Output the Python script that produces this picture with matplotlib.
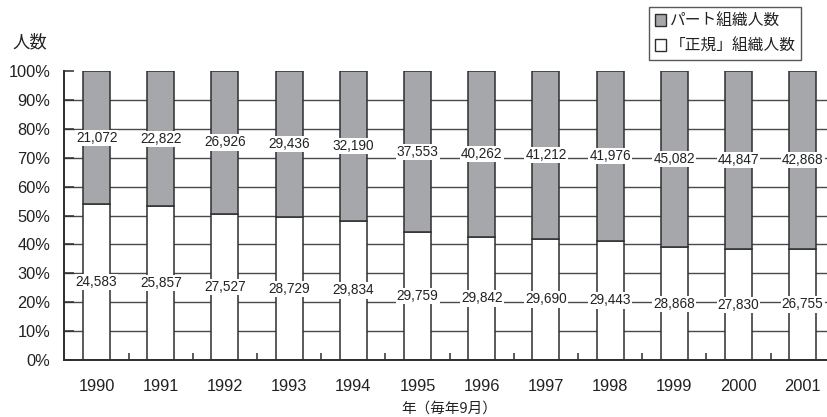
import matplotlib
matplotlib.use("Agg")
import matplotlib.pyplot as plt
from matplotlib.patches import Patch
from matplotlib.ticker import FixedLocator, PercentFormatter
import numpy as np

years = ["1990", "1991", "1992", "1993", "1994", "1995",
         "1996", "1997", "1998", "1999", "2000", "2001"]
part_members = [21072, 22822, 26926, 29436, 32190, 37553,
                40262, 41212, 41976, 45082, 44847, 42868]
regular_members = [24583, 25857, 27527, 28729, 29834, 29759,
                   29842, 29690, 29443, 28868, 27830, 26755]

part_label = "パート組織人数"
regular_label = "「正規」組織人数"
x_title = "年（毎年9月）"
y_title = "人数"

JP = ["Noto Sans CJK JP", "DejaVu Sans"]
plt.rcParams["font.family"] = ["Liberation Sans", "DejaVu Sans"]

GRAY = "#a6a7aa"
DARK = "#2e2e2e"
GRID = "#4a4a4a"

part = np.array(part_members, dtype=float)
reg = np.array(regular_members, dtype=float)
total = part + reg
reg_pct = reg / total * 100
part_pct = part / total * 100

fig = plt.figure(figsize=(8.28, 4.17), dpi=100)
ax = fig.add_axes([64.5 / 828, 1 - 360 / 417, (834.8 - 64.5) / 828, 289 / 417])

x = np.arange(len(years))
w = 0.42
ax.bar(x, reg_pct, width=w, color="white", edgecolor=DARK, linewidth=1.1, zorder=2)
ax.bar(x, part_pct, width=w, bottom=reg_pct, color=GRAY, edgecolor=DARK,
       linewidth=1.1, zorder=2)

for xi, rp, pp, rv, pv in zip(x, reg_pct, part_pct, regular_members, part_members):
    ax.text(xi, rp / 2, f"{rv:,}", ha="center", va="center", fontsize=9.8,
            color="#222222", zorder=4,
            bbox=dict(facecolor="white", edgecolor="none", pad=0.8))
    ax.text(xi, rp + pp / 2, f"{pv:,}", ha="center", va="center", fontsize=9.8,
            color="#222222", zorder=4,
            bbox=dict(facecolor="white", edgecolor="none", pad=0.8))

ax.set_xlim(-0.5, len(years) - 0.5)
ax.set_ylim(0, 100)

# y axis: 10% steps, gridlines behind the bars (none at the top)
ax.yaxis.set_major_locator(FixedLocator(np.arange(0, 101, 10)))
ax.yaxis.set_major_formatter(PercentFormatter(decimals=0))
ax.tick_params(axis="y", direction="in", length=7, width=1.1, color=DARK,
               labelsize=11.8, pad=10, labelcolor="#222222")
ax.grid(axis="y", color=GRID, linewidth=1.0, zorder=0)
ax.set_axisbelow(True)
for val, gl in zip(np.arange(0, 101, 10), ax.yaxis.get_gridlines()):
    if val in (0, 100):
        gl.set_visible(False)

# x axis: labels at the bar centres, small inward ticks between categories
ax.set_xticks(x)
ax.set_xticklabels(years)
ax.tick_params(axis="x", which="major", length=0, labelsize=11.8, pad=14,
               labelcolor="#222222")
ax.set_xticks(np.arange(-0.5, len(years), 1.0)[1:], minor=True)
ax.tick_params(axis="x", which="minor", direction="in", length=5, width=1.1,
               color=DARK)

for side in ("top", "right"):
    ax.spines[side].set_visible(False)
for side in ("left", "bottom"):
    ax.spines[side].set_color(DARK)
    ax.spines[side].set_linewidth(1.4)

fig.text(449 / 828, 1 - 409 / 417, x_title, ha="center", va="center",
         fontsize=10.5, family=JP, color="#222222")
fig.text(12 / 828, 1 - 42 / 417, y_title, ha="left", va="center",
         fontsize=12.5, family=JP, color="#222222")

handles = [Patch(facecolor=GRAY, edgecolor=DARK, linewidth=1.0),
           Patch(facecolor="white", edgecolor=DARK, linewidth=1.0)]
leg = fig.legend(handles, [part_label, regular_label],
                 loc="upper right", bbox_to_anchor=(801 / 828, 1 - 7 / 417),
                 prop={"family": JP, "size": 11.3}, frameon=True, fancybox=False,
                 handlelength=0.75, handleheight=0.75, handletextpad=0.2,
                 borderpad=0.35, labelspacing=0.5, borderaxespad=0)
leg.get_frame().set_edgecolor(DARK)
leg.get_frame().set_linewidth(1.0)
for t in leg.get_texts():
    t.set_color("#222222")

fig.savefig("out.png", dpi=100)
